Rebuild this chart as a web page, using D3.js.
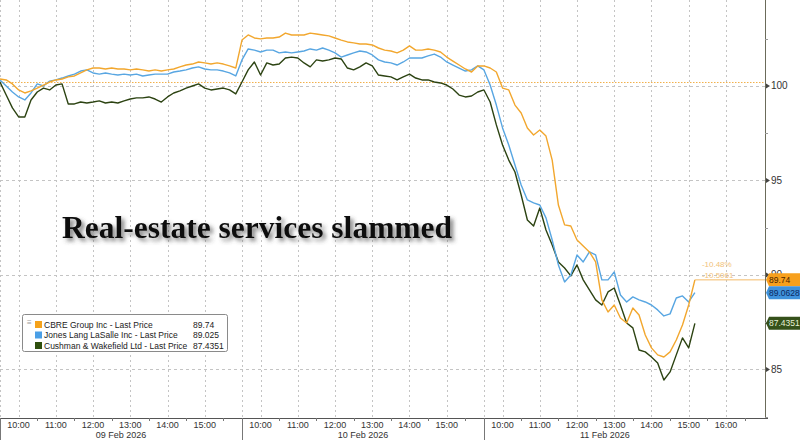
<!DOCTYPE html>
<html>
<head>
<meta charset="utf-8">
<script src="https://cdn.jsdelivr.net/npm/d3@7"></script>
<style>
  body { margin: 0; background: #fff; }
  svg { display: block; }
</style>
</head>
<body>
<div id="vis"></div>
<script>
// readings every 10 minutes from 09:30, one array per series per day
var dayLabels = ['09 Feb 2026', '10 Feb 2026', '11 Feb 2026'];
var seriesNames = ['CBRE Group Inc - Last Price', 'Jones Lang LaSalle Inc - Last Price', 'Cushman & Wakefield Ltd - Last Price'];
var legendValues = ['89.74', '89.025', '87.4351'];
var lastLabels = ['89.74', '89.0628', '87.4351'];
var yTicks = [85, 90, 95, 100];
var changeNotes = ['-10.48%', '-10.5061'];
var baseLine = 100.21;

var cbreDay1 = [100.37,100.32,100.11,99.79,99.63,99.74,99.89,100.05,100.21,100.32,
  100.37,100.48,100.53,100.69,100.85,100.95,100.95,100.90,100.95,100.90,
  100.90,100.85,100.90,100.85,100.79,100.85,100.79,100.85,100.90,101.01,
  101.11,101.16,101.27,101.22,101.16,101.22,101.16,101.06,100.95];
var cbreDay2 = [102.43,102.70,102.54,102.49,102.54,102.54,102.59,102.80,102.70,102.70,
  102.70,102.80,102.75,102.70,102.65,102.54,102.43,102.33,102.28,102.22,
  102.22,102.17,102.01,101.90,101.85,101.75,101.90,102.12,101.90,101.90,
  101.96,101.90,101.80,101.53,101.32,101.11,100.90,100.74,101.06];
var cbreDay3 = [101.06,100.95,100.74,99.89,99.79,98.99,98.57,97.78,97.41,97.67,
  97.35,96.08,93.70,92.65,92.59,91.85,91.53,91.22,90.69,88.68,
  88.04,88.41,87.72,87.46,88.25,87.88,86.82,86.14,85.77,85.66,
  85.93,86.56,87.35,88.41,89.74];

var jllDay1 = [100.32,100.00,99.68,99.42,99.26,99.63,100.11,100.00,100.26,100.32,
  100.42,100.53,100.63,100.79,100.85,100.69,100.63,100.69,100.63,100.58,
  100.63,100.58,100.63,100.53,100.58,100.63,100.63,100.63,100.74,100.79,
  100.85,100.95,101.01,100.90,100.85,100.85,100.79,100.69,100.53];
var jllDay2 = [101.38,101.96,101.90,101.80,101.90,101.90,101.75,101.80,101.75,101.80,
  101.85,101.96,101.90,102.01,101.90,101.75,101.53,101.64,101.75,101.85,
  101.80,101.64,101.38,101.27,101.22,101.11,101.27,101.48,101.48,101.48,
  101.59,101.69,101.53,101.27,101.11,100.95,100.79,100.85,101.06];
var jllDay3 = [100.85,100.05,98.99,97.78,96.88,95.82,94.76,93.97,93.81,93.70,
  93.02,91.85,90.53,89.63,90.00,91.06,90.69,91.22,91.06,89.74,
  89.74,90.16,88.94,88.57,88.84,88.68,88.57,88.41,88.15,87.83,
  87.94,88.78,88.89,88.57,89.06];

var cwkDay1 = [100.21,99.52,98.84,98.36,98.36,99.26,99.68,99.89,99.79,100.05,
  100.11,99.05,99.05,99.15,99.10,99.15,99.21,99.10,99.15,99.10,
  99.21,99.31,99.37,99.37,99.42,99.31,99.15,99.42,99.63,99.74,
  99.89,100.00,100.11,99.89,99.79,99.84,99.89,99.79,99.58];
var cwkDay2 = [100.21,100.85,101.27,100.58,101.22,101.11,101.16,101.48,101.53,101.48,
  101.22,101.01,101.38,101.32,101.38,101.48,101.43,100.95,100.85,101.01,
  101.22,101.06,100.58,100.53,100.48,100.32,100.48,100.63,100.42,100.32,
  100.32,100.21,100.16,100.05,99.84,99.52,99.42,99.47,99.68];
var cwkDay3 = [99.79,99.15,97.94,96.88,96.08,95.45,94.23,92.91,92.59,93.54,
  92.38,91.59,90.69,90.37,89.95,90.53,89.74,89.21,88.68,88.41,
  89.10,89.31,88.41,87.46,87.20,86.03,85.93,85.66,85.34,84.44,
  84.87,85.77,86.67,86.14,87.44];

var width = 800;
var height = 440;
var plotRight = 765;
var plotBottom = 418;
var sessionLength = 390; // 09:30 - 16:00
var stepMinutes = 10;
var colors = ['#f2a72e', '#58a6e2', '#2c4312'];
var swatchColors = ['#f5a21c', '#4a9fe6', '#2f4f0e'];
var labelFills = ['#f7a01d', '#3f92dc', '#35511a'];
var labelText = ['#4a2500', '#0c2860', '#e6f0d6'];

function toPoints(days) {
  var pts = [];
  days.forEach(function (vals, d) {
    vals.forEach(function (v, k) {
      pts.push({ t: d * sessionLength + k * stepMinutes, v: v });
    });
  });
  return pts;
}

var series = [
  toPoints([cbreDay1, cbreDay2, cbreDay3]),
  toPoints([jllDay1, jllDay2, jllDay3]),
  toPoints([cwkDay1, cwkDay2, cwkDay3])
];

// minutes since first open; third day runs on to about 17:03
var x = d3.scaleLinear().domain([0, 2 * sessionLength + 453]).range([0, plotRight]);
var y = d3.scaleLinear().domain([82.43, 104.55]).range([plotBottom, 0]);

var svg = d3.select('#vis').append('svg')
  .attr('width', width)
  .attr('height', height)
  .style('font-family', 'Liberation Sans, Arial, sans-serif');

var defs = svg.append('defs');
var shadow = defs.append('filter').attr('id', 'shadow')
  .attr('x', '-5%').attr('y', '-20%').attr('width', '115%').attr('height', '160%');
shadow.append('feDropShadow')
  .attr('dx', 3).attr('dy', 3).attr('stdDeviation', 2)
  .attr('flood-color', '#444').attr('flood-opacity', 0.7);

// vertical grid: hours and day opens
var hourMarks = [];
var halfMarks = [];
dayLabels.forEach(function (lab, d) {
  var lastHour = d === 2 ? 16 : 15;
  for (var h = 10; h <= lastHour; h++) {
    hourMarks.push({ t: d * sessionLength + (h - 9.5) * 60, label: h + ':00' });
  }
  var lastHalf = d === 2 ? 16.5 : 15.5;
  for (var hh = 10.5; hh <= lastHalf; hh++) {
    halfMarks.push(d * sessionLength + (hh - 9.5) * 60);
  }
});
var dayOpens = dayLabels.map(function (lab, d) { return d * sessionLength; });

svg.append('g').selectAll('line')
  .data(hourMarks.map(function (m) { return m.t; }).concat(dayOpens))
  .enter().append('line')
  .attr('x1', function (d) { return Math.round(x(d)) + 0.5; })
  .attr('x2', function (d) { return Math.round(x(d)) + 0.5; })
  .attr('y1', 0).attr('y2', plotBottom)
  .attr('stroke', '#c4c4c4')
  .attr('stroke-dasharray', '2,3');

svg.append('g').selectAll('line')
  .data(yTicks)
  .enter().append('line')
  .attr('x1', 0).attr('x2', plotRight)
  .attr('y1', function (d) { return Math.round(y(d)) + 0.5; })
  .attr('y2', function (d) { return Math.round(y(d)) + 0.5; })
  .attr('stroke', '#c4c4c4')
  .attr('stroke-dasharray', '3,3');

svg.append('line')
  .attr('x1', 0).attr('x2', plotRight)
  .attr('y1', Math.round(y(baseLine)) + 0.5).attr('y2', Math.round(y(baseLine)) + 0.5)
  .attr('stroke', '#f2b04a')
  .attr('stroke-dasharray', '1.5,1.5');

// title
svg.append('text')
  .attr('x', 62)
  .attr('y', 238)
  .attr('font-family', 'Liberation Serif, Times New Roman, serif')
  .attr('font-weight', 'bold')
  .attr('font-size', 31.5)
  .attr('fill', '#111')
  .attr('filter', 'url(#shadow)')
  .text('Real-estate services slammed');

// price lines, CBRE on top
var line = d3.line()
  .x(function (d) { return x(d.t); })
  .y(function (d) { return y(d.v); });

[2, 1, 0].forEach(function (i) {
  svg.append('path')
    .datum(series[i])
    .attr('fill', 'none')
    .attr('stroke', colors[i])
    .attr('stroke-width', 1.4)
    .attr('stroke-linejoin', 'round')
    .attr('d', line);
});

// last price guide for CBRE
var cbreLast = series[0][series[0].length - 1];
svg.append('line')
  .attr('x1', x(cbreLast.t)).attr('x2', plotRight)
  .attr('y1', y(cbreLast.v)).attr('y2', y(cbreLast.v))
  .attr('stroke', '#f4bb66')
  .attr('stroke-width', 1);

svg.append('g').selectAll('text')
  .data(changeNotes)
  .enter().append('text')
  .attr('x', x(cbreLast.t) + 7)
  .attr('y', function (d, i) { return y(cbreLast.v) - 13 + i * 11; })
  .attr('font-size', 8)
  .attr('fill', '#f1c27a')
  .text(function (d) { return d; });

// axes frame
svg.append('line')
  .attr('x1', plotRight + 0.5).attr('x2', plotRight + 0.5)
  .attr('y1', 0).attr('y2', plotBottom)
  .attr('stroke', '#6b6b5a');
svg.append('line')
  .attr('x1', 0).attr('x2', plotRight + 3)
  .attr('y1', plotBottom + 0.5).attr('y2', plotBottom + 0.5)
  .attr('stroke', '#555');

svg.append('g').selectAll('line')
  .data(dayOpens)
  .enter().append('line')
  .attr('x1', function (d) { return Math.round(x(d)) + 0.5; })
  .attr('x2', function (d) { return Math.round(x(d)) + 0.5; })
  .attr('y1', plotBottom).attr('y2', height)
  .attr('stroke', '#777');

svg.append('g').selectAll('line')
  .data(halfMarks)
  .enter().append('line')
  .attr('x1', function (d) { return Math.round(x(d)) + 0.5; })
  .attr('x2', function (d) { return Math.round(x(d)) + 0.5; })
  .attr('y1', plotBottom).attr('y2', plotBottom + 3)
  .attr('stroke', '#777');

svg.append('g').selectAll('text')
  .data(hourMarks)
  .enter().append('text')
  .attr('x', function (d) { return x(d.t); })
  .attr('y', 428)
  .attr('text-anchor', 'middle')
  .attr('font-size', 9)
  .attr('fill', '#333')
  .text(function (d) { return d.label; });

svg.append('g').selectAll('text')
  .data(dayLabels)
  .enter().append('text')
  .attr('x', function (d, i) { return x(i * sessionLength + sessionLength / 2); })
  .attr('y', 438)
  .attr('text-anchor', 'middle')
  .attr('font-size', 9)
  .attr('fill', '#333')
  .text(function (d) { return d; });

// right axis ticks
var minorTicks = [82.5, 87.5, 92.5, 97.5, 102.5];
svg.append('g').selectAll('line')
  .data(minorTicks)
  .enter().append('line')
  .attr('x1', plotRight).attr('x2', plotRight + 3)
  .attr('y1', function (d) { return Math.round(y(d)) + 0.5; })
  .attr('y2', function (d) { return Math.round(y(d)) + 0.5; })
  .attr('stroke', '#999');

var yLab = svg.append('g').selectAll('g')
  .data(yTicks)
  .enter().append('g')
  .attr('transform', function (d) { return 'translate(' + plotRight + ',' + y(d) + ')'; });
yLab.append('path')
  .attr('d', 'M1,-2.5L5,0L1,2.5Z')
  .attr('fill', '#444');
yLab.append('text')
  .attr('x', 6)
  .attr('dy', '0.35em')
  .attr('font-size', 10)
  .attr('fill', '#333')
  .text(function (d) { return d; });

// last price tags
var tags = svg.append('g').selectAll('g')
  .data(series)
  .enter().append('g')
  .attr('transform', function (d) { return 'translate(' + plotRight + ',' + y(d[d.length - 1].v) + ')'; });
tags.append('path')
  .attr('d', 'M1,0L4,-6.5L35,-6.5L35,6.5L4,6.5Z')
  .attr('fill', function (d, i) { return labelFills[i]; });
tags.append('text')
  .attr('x', 4)
  .attr('dy', '0.36em')
  .attr('font-size', 8.5)
  .attr('fill', function (d, i) { return labelText[i]; })
  .text(function (d, i) { return lastLabels[i]; });

// legend
var legend = svg.append('g').attr('transform', 'translate(22,314)');
legend.append('rect')
  .attr('x', 0.5).attr('y', 0.5)
  .attr('width', 205).attr('height', 37)
  .attr('rx', 2)
  .attr('fill', '#fff')
  .attr('stroke', '#8a8a8a');
legend.append('text')
  .attr('x', 5).attr('y', 11)
  .attr('font-size', 8)
  .attr('fill', '#999')
  .text('\u2261');
var items = legend.selectAll('.legend-item')
  .data(seriesNames)
  .enter().append('g')
  .attr('class', 'legend-item')
  .attr('transform', function (d, i) { return 'translate(0,' + (11 + i * 10.5) + ')'; });
items.append('rect')
  .attr('x', 13).attr('y', -4)
  .attr('width', 7).attr('height', 7)
  .attr('fill', function (d, i) { return swatchColors[i]; });
items.append('text')
  .attr('x', 22)
  .attr('dy', '0.32em')
  .attr('font-size', 8.5)
  .attr('fill', '#222')
  .text(function (d) { return d; });
items.append('text')
  .attr('x', 171)
  .attr('dy', '0.32em')
  .attr('font-size', 8.5)
  .attr('fill', '#222')
  .text(function (d, i) { return legendValues[i]; });
</script>
</body>
</html>
